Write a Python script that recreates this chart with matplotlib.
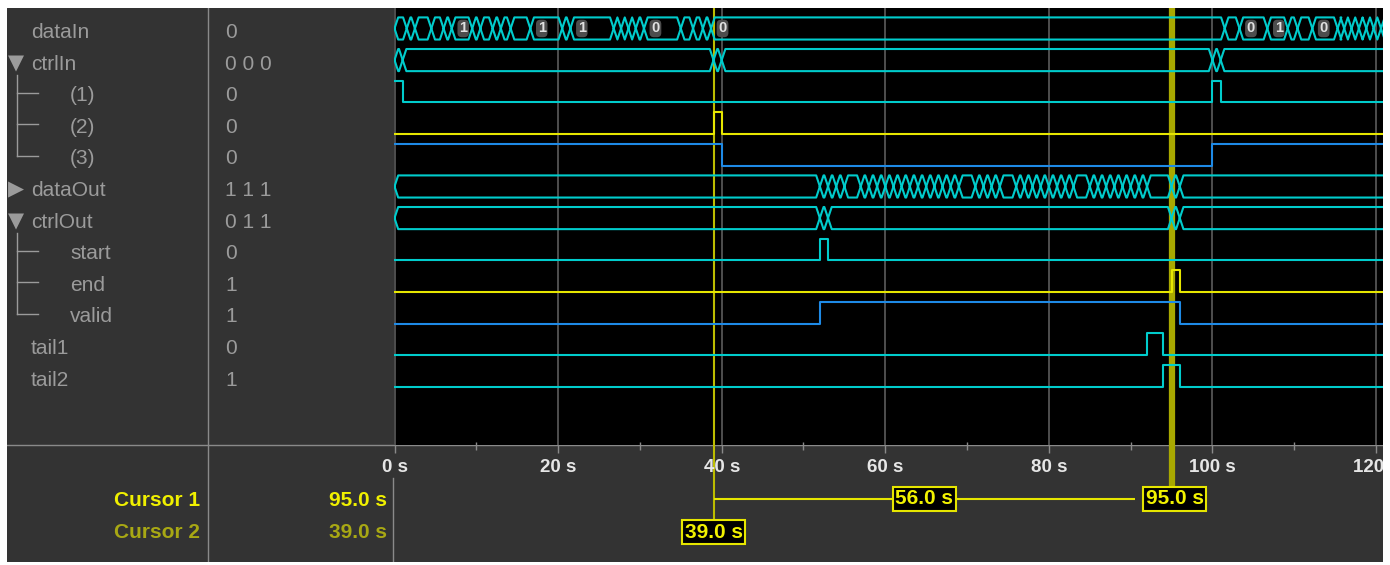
import numpy as np
import matplotlib
matplotlib.use("Agg")
import matplotlib.pyplot as plt

W, H = 1390, 565

# rows shown in the logic analyzer
row_names = ["dataIn", "ctrlIn", "(1)", "(2)", "(3)", "dataOut", "ctrlOut",
             "start", "end", "valid", "tail1", "tail2"]
row_values = ["0", "0 0 0", "0", "0", "0", "1 1 1", "0 1 1", "0", "1", "1", "0", "1"]
row_indent = [0, 0, 1, 1, 1, 0, 0, 1, 1, 1, 0, 0]
row_marker = ["", "▼", "", "", "", "▶", "▼", "", "", "", "", ""]

# dataIn bus: segment start times and values
datain_t = [0, 1.5, 2.5, 4.5, 6, 7, 9.5, 10.5, 12, 13, 14.2, 16.6, 20.5, 21.5,
            26.8, 27.7, 28.6, 29.5, 30.5, 35, 36.5, 37.7, 38.7, 101.5, 103.3,
            106.7, 109.2, 110.4, 112.2, 115.3, 116.1, 117.0, 117.9, 118.8,
            119.7, 120.6]
datain_v = [0, 1, 0, 1, 0, 1, 0, 1, 0, 1, 0, 1, 0, 1, 0, 1, 0, 1, 0, 1, 0, 1,
            0, 1, 0, 1, 0, 1, 0, 1, 0, 1, 0, 1, 0, 1]

ctrlin_t = [0, 1, 39, 40, 100, 101]
dataout_t = [0, 52, 53, 54, 55, 57, 58, 59, 60, 61, 62, 63, 64, 65, 66, 67,
             68, 69, 71, 72, 73, 74, 76, 77, 78, 79, 80, 81, 82, 83, 85, 86,
             87, 88, 89, 90, 91, 92, 95, 96]
ctrlout_t = [0, 52, 53, 95, 96]

# single bit signals: edge times and levels
ctrl1_t, ctrl1_v = [0, 1, 100, 101], [1, 0, 1, 0]
ctrl2_t, ctrl2_v = [0, 39, 40], [0, 1, 0]
ctrl3_t, ctrl3_v = [0, 40, 100], [1, 0, 1]
start_t, start_v = [0, 52, 53], [0, 1, 0]
end_t, end_v = [0, 95, 96], [0, 1, 0]
valid_t, valid_v = [0, 52, 96], [0, 1, 0]
tail1_t, tail1_v = [0, 92, 94], [0, 1, 0]
tail2_t, tail2_v = [0, 94, 96], [0, 1, 0]

time_ticks = [0, 20, 40, 60, 80, 100, 120]
minor_ticks = [10, 30, 50, 70, 90, 110]
cursor1 = 95.0
cursor2 = 39.0

CYAN = "#00cccc"
YELLOW = "#e6e600"
BLUE = "#1e8ae6"
GREY_TXT = "#9b9b9b"
LINE = "#8a8a8a"
C1 = "#f0f000"
C2 = "#a8a814"

plt.rcParams["font.family"] = ["Liberation Sans", "DejaVu Sans"]

fig = plt.figure(figsize=(W / 100, H / 100), dpi=100, facecolor="white")


def px_axes(x0, y0, x1, y1, **kw):
    return fig.add_axes([x0 / W, 1 - y1 / H, (x1 - x0) / W, (y1 - y0) / H], **kw)


# dark panel background + divider lines (pixel coordinates)
bg = px_axes(7, 8, 1383, 562)
bg.set_xlim(7, 1383)
bg.set_ylim(562, 8)
bg.axis("off")
bg.add_patch(plt.Rectangle((7, 8), 1376, 554, color="#333333", zorder=0))
bg.plot([7, 1383], [445, 445], color=LINE, lw=1)
bg.plot([208, 208], [8, 562], color=LINE, lw=1)
bg.plot([393, 393], [478, 562], color=LINE, lw=1)

# waveform axes
y_top = (8 - 31) / 31.6
y_bot = (445 - 31) / 31.6
x_max = (1383 - 394.5) / 8.18
x_min = -0.5 / 8.18

ax = px_axes(394, 8, 1383, 445)
ax.set_facecolor("black")
ax.set_xlim(x_min, x_max)
ax.set_ylim(y_bot, y_top)
ax.set_xticks(time_ticks)
ax.set_yticks([])
ax.tick_params(length=0, labelbottom=False)
ax.grid(axis="x", color="#5c5c5c", lw=1.2)
ax.set_axisbelow(True)
for s in ax.spines.values():
    s.set_visible(False)

HW = 0.45  # half width of a bus crossing, in seconds


def draw_bus(r, times, color, values=None):
    top, bot = r - 0.43, r + 0.27
    mid = (top + bot) / 2
    ends = list(times[1:]) + [x_max + 5]
    for k, (a, b) in enumerate(zip(times, ends)):
        xs = [a, a + HW, b - HW, b, b - HW, a + HW, a]
        ys = [mid, top, top, mid, bot, bot, mid]
        ax.plot(xs, ys, color=color, lw=1.5, zorder=3)
        if values is not None and b - a > 2.45 and a < x_max - 1:
            ax.text(a + HW + 0.95, mid, str(values[k]), ha="center", va="center",
                    fontsize=10.5, fontweight="bold", color="#e0e0e0", zorder=4,
                    bbox=dict(boxstyle="round,pad=0.12,rounding_size=0.3",
                              fc="#4d4d4d", ec="none"))


def draw_bit(r, times, values, color):
    ys = [r - 0.43 if v else r + 0.26 for v in values]
    ax.step(list(times) + [x_max + 5], ys + [ys[-1]], where="post",
            color=color, lw=1.5, zorder=3)


draw_bus(0, datain_t, CYAN, datain_v)
draw_bus(1, ctrlin_t, CYAN)
draw_bit(2, ctrl1_t, ctrl1_v, CYAN)
draw_bit(3, ctrl2_t, ctrl2_v, YELLOW)
draw_bit(4, ctrl3_t, ctrl3_v, BLUE)
draw_bus(5, dataout_t, CYAN)
draw_bus(6, ctrlout_t, CYAN)
draw_bit(7, start_t, start_v, CYAN)
draw_bit(8, end_t, end_v, YELLOW)
draw_bit(9, valid_t, valid_v, BLUE)
draw_bit(10, tail1_t, tail1_v, CYAN)
draw_bit(11, tail2_t, tail2_v, CYAN)

# cursors in the waveform area
ax.axvline(cursor2, color="#bcbc00", lw=1.5, zorder=2)
ax.axvline(cursor1, color="#a8a800", lw=4.5, zorder=2)

# names and values column
axl = px_axes(7, 8, 393, 445)
axl.set_xlim(7, 393)
axl.set_ylim(y_bot, y_top)
axl.axis("off")
for r, (name, val) in enumerate(zip(row_names, row_values)):
    x = 70 if row_indent[r] else 31
    axl.text(x, r + 0.05, name, ha="left", va="center", fontsize=15, color=GREY_TXT)
    axl.text(225, r + 0.05, val, ha="left", va="center", fontsize=15, color=GREY_TXT)
    if row_marker[r]:
        axl.text(8, r + 0.02, row_marker[r], ha="left", va="center", fontsize=15,
                 color=GREY_TXT, family="DejaVu Sans")
# tree lines for the expanded groups
for parent in [1, 6]:
    kids = [r for r in range(parent + 1, parent + 4) if row_indent[r]]
    axl.plot([17, 17], [parent + 0.4, kids[-1] - 0.05], color=GREY_TXT, lw=1)
    for r in kids:
        axl.plot([17, 38], [r - 0.05, r - 0.05], color=GREY_TXT, lw=1)

# bottom time ruler and cursor readouts
axb = px_axes(394, 445, 1383, 562)
axb.set_xlim(x_min, x_max)
axb.set_ylim(562, 445)
axb.axis("off")
axb.vlines(time_ticks, 445, 453, color=LINE, lw=1)
axb.vlines(minor_ticks, 442, 450, color=LINE, lw=1, clip_on=False)
for t in time_ticks:
    lab = axb.text(t, 468, f"{t} s", ha="center", va="center", fontsize=13.5,
                   fontweight="bold", color="#e6e6e6", clip_on=True)
    lab.set_clip_box(bg.bbox)

box_half = 37 / 8.18
axb.vlines(cursor2, 445, 519, color="#bcbc00", lw=1.5)
axb.vlines(cursor1, 445, 486, color="#a8a800", lw=4.5)
axb.hlines(499, cursor2, cursor1 - box_half, color=YELLOW, lw=1.5)
box = dict(boxstyle="square,pad=0.12", fc="black", ec=YELLOW, lw=1.5)
axb.text(cursor1 + 0.4, 499, f"{cursor1:.1f} s", ha="center", va="center",
         fontsize=15, fontweight="bold", color="#f2f200", bbox=box)
axb.text(cursor2, 532, f"{cursor2:.1f} s", ha="center", va="center",
         fontsize=15, fontweight="bold", color="#f2f200", bbox=box)
axb.text((cursor2 + cursor1 - box_half) / 2, 499, f"{cursor1 - cursor2:.1f} s",
         ha="center", va="center", fontsize=15, fontweight="bold",
         color="#f2f200", bbox=box)

axbl = px_axes(7, 445, 393, 562)
axbl.set_xlim(7, 393)
axbl.set_ylim(562, 445)
axbl.axis("off")
axbl.text(200, 500, "Cursor 1", ha="right", va="center", fontsize=15,
          fontweight="bold", color=C1)
axbl.text(387, 500, f"{cursor1:.1f} s", ha="right", va="center", fontsize=15,
          fontweight="bold", color=C1)
axbl.text(200, 533, "Cursor 2", ha="right", va="center", fontsize=15,
          fontweight="bold", color=C2)
axbl.text(387, 533, f"{cursor2:.1f} s", ha="right", va="center", fontsize=15,
          fontweight="bold", color=C2)

fig.savefig("out.png", dpi=100, facecolor="white")
